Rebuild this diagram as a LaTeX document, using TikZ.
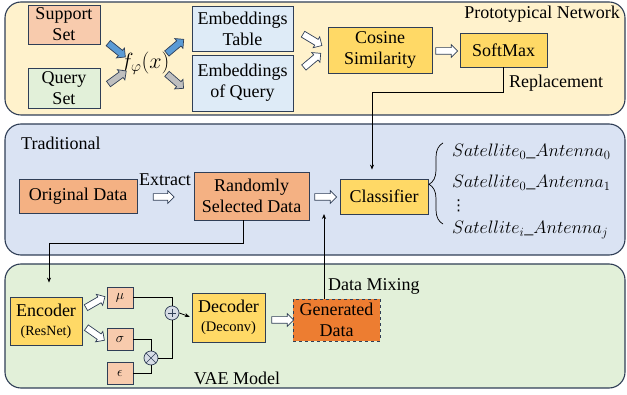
\RequirePackage{fix-cm}
\documentclass[tikz,border=0pt]{standalone}
\usepackage{fontspec}
\setmainfont{Liberation Serif}
\newfontfamily\symfont{DejaVu Sans}
\usetikzlibrary{shapes.arrows,arrows.meta,decorations.pathreplacing}

\definecolor{edge}{HTML}{2F3E56}
\definecolor{protofill}{HTML}{FFF2CC}
\definecolor{tradfill}{HTML}{DAE3F3}
\definecolor{vaefill}{HTML}{E2F0D9}
\definecolor{peach}{HTML}{F8CBAD}
\definecolor{mint}{HTML}{E2F0D9}
\definecolor{sky}{HTML}{DEEBF7}
\definecolor{gold}{HTML}{FFD966}
\definecolor{apricot}{HTML}{F4B183}
\definecolor{tangerine}{HTML}{ED7D31}
\definecolor{steel}{HTML}{5B9BD5}
\definecolor{ash}{HTML}{BFBFBF}
\definecolor{mist}{HTML}{D6DCE5}

\tikzset{
  panel/.style={draw=edge, line width=1.1pt, rounded corners=16pt,
    minimum width=620pt, inner sep=0pt},
  box/.style={draw=edge, line width=0.8pt, align=center, inner sep=0pt,
    font=\fontsize{18}{21}\selectfont},
  lbl/.style={inner sep=0pt, font=\fontsize{18}{21}\selectfont},
  fat/.style={single arrow, draw=edge, line width=0.7pt,
    inner xsep=0pt, inner ysep=3pt, single arrow head extend=3pt,
    single arrow head indent=0pt, minimum height=22pt, fill=white},
  wire/.style={line width=0.8pt, draw=black},
  conn/.style={wire, -{Stealth[length=5pt,width=4pt]}},
  junction/.style={circle, draw=edge, fill=mist, line width=0.7pt,
    minimum size=14pt, inner sep=0pt},
  varbox/.style={draw=edge, line width=0.8pt, fill=peach, inner sep=0pt,
    minimum width=26pt, minimum height=22pt, font=\fontsize{14}{16}\selectfont},
}

\begin{document}
\begin{tikzpicture}[x=1pt,y=-1pt]
\useasboundingbox (0,0) rectangle (627,395);

% ---------- the three panels ----------
\node[panel, fill=protofill, minimum height=113pt] (p1) at (315,58.5) {};
\node[panel, fill=tradfill, minimum height=131pt] (p2) at (315,189.5) {};
\node[panel, fill=vaefill, minimum height=124pt] (p3) at (315,326) {};

% ---------- prototypical network ----------
\node[box, fill=peach, minimum width=72pt, minimum height=39pt] (sup) at (64,24.5) {Support\\Set};
\node[box, fill=mint, minimum width=72pt, minimum height=40pt] (qry) at (64,88) {Query\\Set};
\node[lbl, font=\fontsize{22}{24}\selectfont] (f) at (145,63) {$f_{\varphi}(x)$};
\node[box, fill=sky, minimum width=101pt, minimum height=45pt] (tab) at (242.5,28.5) {Embeddings\\Table};
\node[box, fill=sky, minimum width=101pt, minimum height=56pt] (emq) at (242.5,83) {Embeddings\\of Query};
\node[box, fill=gold, minimum width=104pt, minimum height=46pt] (cos) at (380,50) {Cosine\\Similarity};
\node[box, fill=gold, minimum width=87pt, minimum height=34pt] (soft) at (503.5,50) {SoftMax};
\node[lbl, anchor=east] (ptitle) at (620,14) {Prototypical Network};
\node[lbl, anchor=west] (repl) at (509,83) {Replacement};

\node[fat, fill=steel, rotate=-39] (a1) at (115.5,49) {};
\node[fat, fill=ash, rotate=36] (a2) at (116,78.5) {};
\node[fat, fill=steel, rotate=40] (a3) at (174,47.5) {};
\node[fat, fill=ash, rotate=-41] (a4) at (174,80) {};
\node[fat, rotate=-31] (a5) at (311,39) {};
\node[fat, rotate=40] (a6) at (311,61.5) {};
\node[fat] (a7) at (445,51) {};

% ---------- traditional pipeline ----------
\node[lbl, anchor=west] (ttitle) at (21,143) {Traditional};
\node[box, fill=apricot, minimum width=118pt, minimum height=34pt] (orig) at (78,196) {Original Data};
\node[lbl] (extract) at (165,180) {Extract};
\node[box, fill=apricot, minimum width=115pt, minimum height=48pt] (rnd) at (251.5,196) {Randomly\\Selected Data};
\node[box, fill=gold, minimum width=88pt, minimum height=35pt] (cls) at (384,196.5) {Classifier};
\node[fat, minimum height=21pt] (a8) at (162,197) {};
\node[fat] (a9) at (324,197) {};

\draw[wire, line width=0.7pt, decorate,
      decoration={brace, amplitude=14pt, aspect=0.49}] (443,224) -- (443,143);
\node[lbl, anchor=west] (s0) at (452,152) {$Satellite_0\_Antenna_0$};
\node[lbl, anchor=west] (s1) at (452,183) {$Satellite_0\_Antenna_1$};
\node[lbl, anchor=west, font=\fontsize{15}{16}\symfont] (sd) at (451,206) {⋮};
\node[lbl, anchor=west] (sn) at (452,230) {$Satellite_i\_Antenna_j$};

% ---------- VAE model ----------
\node[box, fill=gold, minimum width=72pt, minimum height=48pt] (enc) at (46,321)
  {Encoder\\[-2pt]{\fontsize{14}{16}\selectfont (ResNet)}};
\node[varbox, minimum height=21pt] (mu) at (120,297.5) {$\mu$};
\node[varbox] (sig) at (120,339) {$\sigma$};
\node[varbox] (eps) at (120,373) {$\epsilon$};
\node[junction] (plus) at (172,313) {};
\node[junction] (times) at (151,358) {};
\draw[edge, line width=0.7pt] ([xshift=-4pt]plus.center) -- ([xshift=4pt]plus.center)
  ([yshift=-4pt]plus.center) -- ([yshift=4pt]plus.center);
\draw[edge, line width=0.7pt] (times.north west) -- (times.south east)
  (times.north east) -- (times.south west);
\node[box, fill=gold, minimum width=73pt, minimum height=49pt] (dec) at (228.5,317.5)
  {Decoder\\[-2pt]{\fontsize{14.5}{16}\selectfont (Deconv)}};
\node[box, fill=tangerine, dashed, minimum width=87pt, minimum height=42pt] (gen) at (336.5,320)
  {Generated\\Data};
\node[lbl] (vtitle) at (237,378) {VAE Model};
\node[lbl, anchor=west] (mixlbl) at (328,286) {Data Mixing};

\node[fat, rotate=30] (a10) at (94,303) {};
\node[fat, rotate=-35] (a11) at (94,333) {};
\node[fat] (a12) at (281,320) {};

\draw[wire] (mu.east) -| (plus.north);
\draw[wire] (sig.east) -| (times.north);
\draw[wire] (eps.east) -| (times.south);
\draw[wire] (times.east) -| (plus.south);
\draw[conn, shorten >=2pt] (plus.east) -- (dec.west);

% ---------- links between panels ----------
\draw[conn, shorten >=9pt] (soft.south) -- ++(0,25) -| ([xshift=-12pt]cls.north);
\draw[conn, shorten >=14pt] ([xshift=-8.5pt]rnd.south) -- ++(0,23) -| ([xshift=3pt]enc.north);
\coordinate (mixtip) at (324,214);
\draw[conn] ([xshift=-12.5pt]gen.north) -- (mixtip);
\end{tikzpicture}
\end{document}
